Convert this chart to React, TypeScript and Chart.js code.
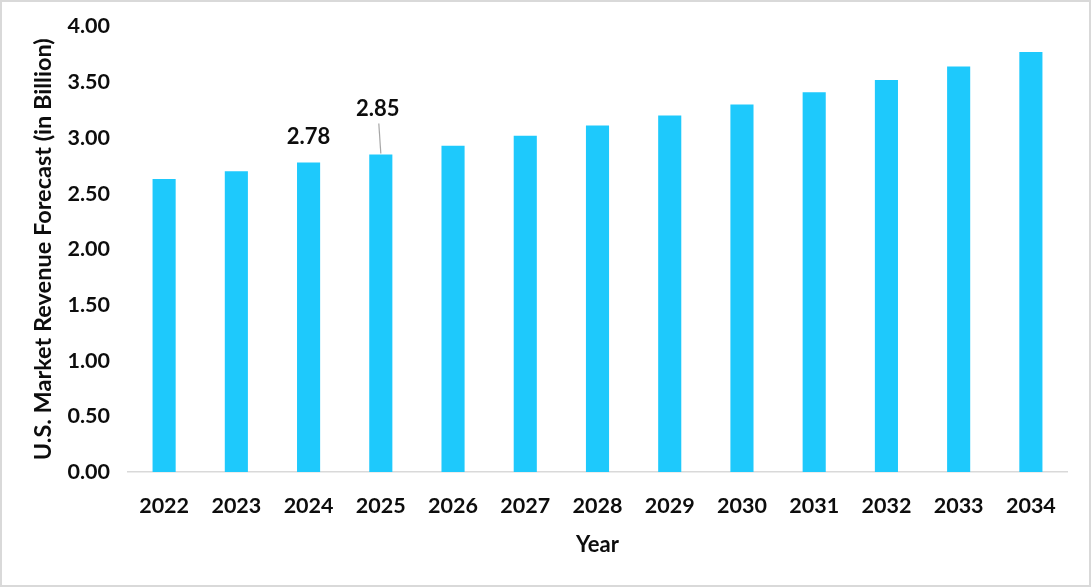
import React, { useEffect, useRef } from "react";
import { Chart, registerables } from "chart.js";

Chart.register(...registerables);

const years = ["2022", "2023", "2024", "2025", "2026", "2027", "2028", "2029", "2030", "2031", "2032", "2033", "2034"];
const revenue = [2.63, 2.70, 2.78, 2.85, 2.93, 3.02, 3.11, 3.20, 3.30, 3.41, 3.52, 3.64, 3.77];
const labeledIndices = [2, 3];
const yTitle = "U.S. Market Revenue Forecast (in Billion)";
const xTitle = "Year";

const FONT = "Lato, 'Open Sans', sans-serif";

const labelPlugin = {
  id: "pointLabels",
  afterDatasetsDraw(chart: any) {
    const ctx = chart.ctx;
    const meta = chart.getDatasetMeta(0);
    ctx.save();
    ctx.font = `bold 22px ${FONT}`;
    ctx.fillStyle = "#0d0d0d";
    ctx.textAlign = "center";
    ctx.textBaseline = "middle";
    labeledIndices.forEach((i, k) => {
      const el = meta.data[i];
      const v = revenue[i].toFixed(2);
      if (k === 0) {
        ctx.fillText(v, el.x, el.y - 25);
      } else {
        ctx.fillText(v, el.x - 3, el.y - 46);
        ctx.strokeStyle = "#a6a6a6";
        ctx.lineWidth = 1.2;
        ctx.beginPath();
        ctx.moveTo(el.x - 2, el.y - 31);
        ctx.lineTo(el.x, el.y - 1);
        ctx.stroke();
      }
    });
    ctx.restore();
  },
};

export default function App() {
  const ref = useRef<HTMLCanvasElement>(null);
  useEffect(() => {
    document.body.style.margin = "0";
    const chart = new Chart(ref.current!, {
      type: "bar",
      data: {
        labels: years,
        datasets: [
          {
            data: revenue,
            backgroundColor: "#1ec9fc",
            categoryPercentage: 1,
            barPercentage: 0.32,
          },
        ],
      },
      options: {
        animation: false,
        responsive: false,
        maintainAspectRatio: false,
        layout: { padding: { top: 26.5, right: 24, bottom: 0, left: 0 } },
        plugins: { legend: { display: false }, tooltip: { enabled: false } },
        scales: {
          x: {
            grid: { display: false, drawTicks: false },
            border: { display: true, color: "#d9d9d9", width: 1.5 },
            ticks: { color: "#0d0d0d", font: { family: FONT, size: 21.5, weight: "bold" }, padding: 21 },
            title: {
              display: true,
              text: xTitle,
              color: "#0d0d0d",
              font: { family: FONT, size: 22, weight: "bold" },
              padding: { top: 0, bottom: 29 },
            },
            afterFit(scale: any) {
              scale.height = 115;
              scale.paddingLeft = 0;
              scale.paddingRight = 0;
            },
          },
          y: {
            min: 0,
            max: 4,
            grid: { display: false, drawTicks: false },
            border: { display: false },
            ticks: {
              stepSize: 0.5,
              color: "#0d0d0d",
              font: { family: FONT, size: 21.5, weight: "bold" },
              padding: 18,
              callback: (v: any) => Number(v).toFixed(2),
            },
            title: {
              display: true,
              text: yTitle,
              color: "#0d0d0d",
              font: { family: FONT, size: 23.5, weight: "bold" },
              padding: { top: 29.5, bottom: 0 },
            },
            afterFit(scale: any) {
              scale.width = 128;
              scale.paddingTop = 0;
              scale.paddingBottom = 0;
            },
          },
        },
      },
      plugins: [labelPlugin],
    });
    return () => chart.destroy();
  }, []);
  return (
    <div style={{ position: "relative", width: 1091, height: 587 }}>
      <canvas ref={ref} width={1091} height={587} style={{ position: "absolute", left: 0, top: 0, width: 1091, height: 587 }} />
      <div
        style={{
          position: "absolute",
          inset: 0,
          border: "2px solid #d9d9d9",
          boxSizing: "border-box",
          pointerEvents: "none",
        }}
      />
    </div>
  );
}
